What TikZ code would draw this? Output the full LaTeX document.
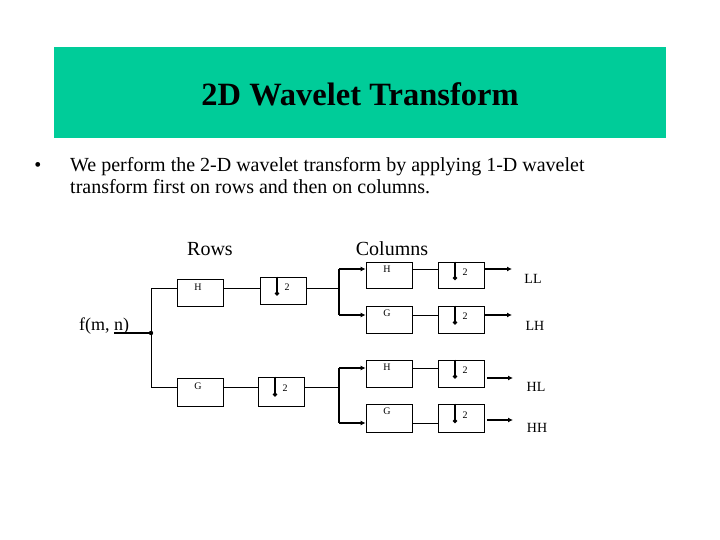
\documentclass[tikz,border=0pt]{standalone}
\usepackage{fontspec}
\setmainfont{Liberation Serif}
\usetikzlibrary{calc,arrows.meta}
\definecolor{teal1}{HTML}{00CC99}
\newcommand\downmark[1]{%
  \draw[line width=1.8pt,-{Circle[length=4pt,width=4pt]}] ($(#1.north)+(-6,0)$) -- ($(#1.center)+(-6,5)$);
  \node[small] at ($(#1.center)+(4,-3)$) {2};}
\begin{document}
\begin{tikzpicture}[x=1pt,y=-1pt,
  box/.style={draw,line width=0.8pt,minimum width=46pt,minimum height=27pt,inner sep=0pt},
  thin/.style={line width=0.8pt},
  vbar/.style={line width=1.4pt},
  thickl/.style={line width=2.4pt},
  arr/.style={thickl,-{Latex[length=5pt,width=5pt]}},
  small/.style={font=\fontsize{10}{11}\selectfont,inner sep=0pt},
  lbl/.style={font=\fontsize{14}{16}\selectfont,inner sep=0pt},
  big/.style={font=\fontsize{20}{23}\selectfont,inner sep=0pt}]
\useasboundingbox (0,0) rectangle (720,540);
% title
\fill[teal1] (54,47) rectangle (666,138);
\node[font=\bfseries\fontsize{32.5}{36}\selectfont,inner sep=0pt,anchor=base] (title) at (360,106) {2D Wavelet Transform};
% bullet
\node[big,anchor=base] (dot) at (38,172) {•};
\node[big,anchor=base west] (b1) at (70,172) {We perform the 2-D wavelet transform by applying 1-D wavelet};
\node[big,anchor=base west] (b2) at (70,194) {transform first on rows and then on columns.};
\node[big,anchor=base] (rows) at (210,255) {Rows};
\node[big,anchor=base] (cols) at (392,255) {Columns};
\node[font=\fontsize{18}{20}\selectfont,inner sep=0pt,anchor=base west] (f) at (79,330) {f(m, n)};
% rows stage
\node[box] (hR) at (200,292.5) {};
\node[box] (dR1) at (283,290.5) {};
\node[box,minimum height=28pt] (gR) at (200,392) {};
\node[box,minimum height=29pt] (dR2) at (281,391.5) {};
\node[small] at ($(hR.north)+(-2,9)$) {H};
\node[small] at ($(gR.north)+(-2,9)$) {G};
\downmark{dR1}
\downmark{dR2}
\coordinate (src) at (114,333);
\coordinate (j) at (151,333);
\coordinate (jt) at (151,288);
\coordinate (jb) at (151,387);
\draw[thickl] (src) -- (j);
\fill (j) circle (2.2);
\draw[thin] (jt) -- (jb);
\draw[thin] (jt) -- (jt -| hR.west);
\draw[thin] (jb) -- (jb -| gR.west);
\draw[thin] (hR.east |- jt) -- (dR1.west |- jt);
\draw[thin] (gR.east |- jb) -- (dR2.west |- jb);
\coordinate (ct) at (339,288);
\coordinate (cb) at (339,387);
\draw[thin] (dR1.east |- ct) -- (ct);
\draw[thin] (dR2.east |- cb) -- (cb);
% columns stage
\node[box,minimum height=26pt] (hC1) at (389,275) {};
\node[box,minimum height=26pt] (dC1) at (461,275) {};
\node[box] (gC1) at (389,319.5) {};
\node[box] (dC2) at (461,319.5) {};
\node[box] (hC2) at (389,373.5) {};
\node[box] (dC3) at (461,373.5) {};
\node[box,minimum height=28pt] (gC2) at (389,418) {};
\node[box,minimum height=28pt] (dC4) at (461,418) {};
\foreach \b/\t in {hC1/H,gC1/G,hC2/H,gC2/G}{\node[small] at ($(\b.north)+(-2,8)$) {\t};}
\downmark{dC1}
\downmark{dC2}
\downmark{dC3}
\downmark{dC4}
\coordinate (c1) at (339,269);
\coordinate (c2) at (339,315);
\coordinate (c3) at (339,368);
\coordinate (c4) at (339,423);
\draw[vbar] (c1) -- (c2);
\draw[vbar] (c3) -- (c4);
\draw[arr] (c1) -- (c1 -| hC1.west);
\draw[arr] (c2) -- (c2 -| gC1.west);
\draw[arr] (c3) -- (c3 -| hC2.west);
\draw[arr] (c4) -- (c4 -| gC2.west);
\draw[thin] (hC1.east |- c1) -- (dC1.west |- c1);
\draw[thin] (gC1.east |- c2) -- (dC2.west |- c2);
\draw[thin] (hC2.east |- c3) -- (dC3.west |- c3);
\draw[thin] (gC2.east |- c4) -- (dC4.west |- c4);
% outputs
\coordinate (o1) at (512,269);
\coordinate (o2) at (512,315);
\coordinate (o3s) at (487,378);
\coordinate (o3) at (513,378);
\coordinate (o4s) at (487,420);
\coordinate (o4) at (513,420);
\draw[arr] (dC1.east |- o1) -- (o1);
\draw[arr] (dC2.east |- o2) -- (o2);
\draw[arr] (o3s) -- (o3);
\draw[arr] (o4s) -- (o4);
\node[lbl] (LL) at (533,279) {LL};
\node[lbl] (LH) at (535,326) {LH};
\node[lbl] (HL) at (536,387) {HL};
\node[lbl] (HH) at (537,428) {HH};
\end{tikzpicture}
\end{document}
